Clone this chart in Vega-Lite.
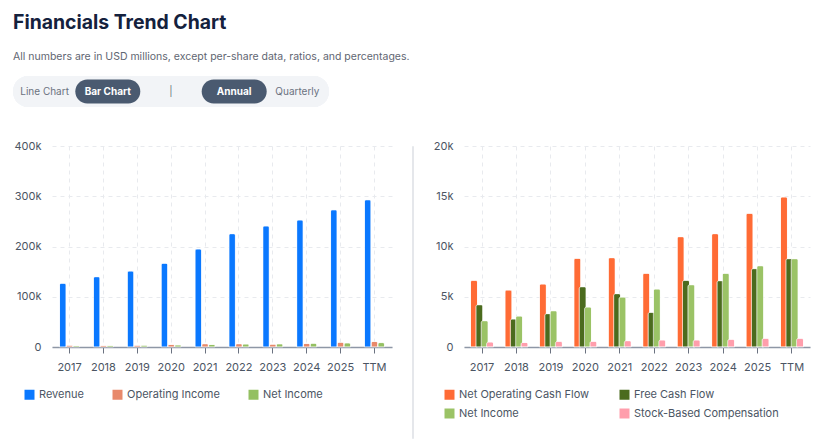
{
  "$schema": "https://vega.github.io/schema/vega-lite/v6.json",
  "background": "white",
  "padding": {"left": 13, "top": 13, "right": 5, "bottom": 5},
  "title": {
    "text": "Financials Trend Chart",
    "subtitle": "All numbers are in USD millions, except per-share data, ratios, and percentages.",
    "anchor": "start",
    "font": "Inter",
    "fontSize": 19.4,
    "fontWeight": 700,
    "color": "#14213d",
    "subtitleFont": "Inter",
    "subtitleFontSize": 10.5,
    "subtitleColor": "#5f6672",
    "subtitlePadding": 18,
    "offset": 13
  },
  "config": {
    "font": "Inter",
    "view": {"stroke": null},
    "axis": {"labelFont": "Inter", "labelFontSize": 11, "labelColor": "#4b5563"},
    "legend": {"labelFont": "Inter", "labelFontSize": 11, "labelColor": "#4b5563"}
  },
  "datasets": {
    "controls": [
      {"label": "Line Chart", "active": false},
      {"label": "Bar Chart", "active": true},
      {"label": "|", "active": false},
      {"label": "Annual", "active": true},
      {"label": "Quarterly", "active": false}
    ],
    "income": [
      {"period": "2017", "metric": "Revenue", "value": 126800},
      {"period": "2018", "metric": "Revenue", "value": 139900},
      {"period": "2019", "metric": "Revenue", "value": 151000},
      {"period": "2020", "metric": "Revenue", "value": 166600},
      {"period": "2021", "metric": "Revenue", "value": 195000},
      {"period": "2022", "metric": "Revenue", "value": 225500},
      {"period": "2023", "metric": "Revenue", "value": 240800},
      {"period": "2024", "metric": "Revenue", "value": 252700},
      {"period": "2025", "metric": "Revenue", "value": 273000},
      {"period": "TTM", "metric": "Revenue", "value": 293000},
      {"period": "2017", "metric": "Operating Income", "value": 3500},
      {"period": "2018", "metric": "Operating Income", "value": 3200},
      {"period": "2019", "metric": "Operating Income", "value": 3300},
      {"period": "2020", "metric": "Operating Income", "value": 5000},
      {"period": "2021", "metric": "Operating Income", "value": 6500},
      {"period": "2022", "metric": "Operating Income", "value": 6500},
      {"period": "2023", "metric": "Operating Income", "value": 5700},
      {"period": "2024", "metric": "Operating Income", "value": 7200},
      {"period": "2025", "metric": "Operating Income", "value": 9300},
      {"period": "TTM", "metric": "Operating Income", "value": 11000},
      {"period": "2017", "metric": "Net Income", "value": 2620},
      {"period": "2018", "metric": "Net Income", "value": 3080},
      {"period": "2019", "metric": "Net Income", "value": 3610},
      {"period": "2020", "metric": "Net Income", "value": 3980},
      {"period": "2021", "metric": "Net Income", "value": 4970},
      {"period": "2022", "metric": "Net Income", "value": 5770},
      {"period": "2023", "metric": "Net Income", "value": 6200},
      {"period": "2024", "metric": "Net Income", "value": 7330},
      {"period": "2025", "metric": "Net Income", "value": 8090},
      {"period": "TTM", "metric": "Net Income", "value": 8790}
    ],
    "cashflow": [
      {"period": "2017", "metric": "Net Operating Cash Flow", "value": 6630},
      {"period": "2018", "metric": "Net Operating Cash Flow", "value": 5670},
      {"period": "2019", "metric": "Net Operating Cash Flow", "value": 6270},
      {"period": "2020", "metric": "Net Operating Cash Flow", "value": 8820},
      {"period": "2021", "metric": "Net Operating Cash Flow", "value": 8890},
      {"period": "2022", "metric": "Net Operating Cash Flow", "value": 7330},
      {"period": "2023", "metric": "Net Operating Cash Flow", "value": 10980},
      {"period": "2024", "metric": "Net Operating Cash Flow", "value": 11280},
      {"period": "2025", "metric": "Net Operating Cash Flow", "value": 13300},
      {"period": "TTM", "metric": "Net Operating Cash Flow", "value": 14930},
      {"period": "2017", "metric": "Free Cash Flow", "value": 4210},
      {"period": "2018", "metric": "Free Cash Flow", "value": 2790},
      {"period": "2019", "metric": "Free Cash Flow", "value": 3320},
      {"period": "2020", "metric": "Free Cash Flow", "value": 6000},
      {"period": "2021", "metric": "Free Cash Flow", "value": 5310},
      {"period": "2022", "metric": "Free Cash Flow", "value": 3450},
      {"period": "2023", "metric": "Free Cash Flow", "value": 6630},
      {"period": "2024", "metric": "Free Cash Flow", "value": 6600},
      {"period": "2025", "metric": "Free Cash Flow", "value": 7800},
      {"period": "TTM", "metric": "Free Cash Flow", "value": 8790},
      {"period": "2017", "metric": "Net Income", "value": 2620},
      {"period": "2018", "metric": "Net Income", "value": 3080},
      {"period": "2019", "metric": "Net Income", "value": 3610},
      {"period": "2020", "metric": "Net Income", "value": 3980},
      {"period": "2021", "metric": "Net Income", "value": 4970},
      {"period": "2022", "metric": "Net Income", "value": 5770},
      {"period": "2023", "metric": "Net Income", "value": 6200},
      {"period": "2024", "metric": "Net Income", "value": 7330},
      {"period": "2025", "metric": "Net Income", "value": 8090},
      {"period": "TTM", "metric": "Net Income", "value": 8790},
      {"period": "2017", "metric": "Stock-Based Compensation", "value": 500},
      {"period": "2018", "metric": "Stock-Based Compensation", "value": 460},
      {"period": "2019", "metric": "Stock-Based Compensation", "value": 560},
      {"period": "2020", "metric": "Stock-Based Compensation", "value": 560},
      {"period": "2021", "metric": "Stock-Based Compensation", "value": 630},
      {"period": "2022", "metric": "Stock-Based Compensation", "value": 700},
      {"period": "2023", "metric": "Stock-Based Compensation", "value": 700},
      {"period": "2024", "metric": "Stock-Based Compensation", "value": 760},
      {"period": "2025", "metric": "Stock-Based Compensation", "value": 860},
      {"period": "TTM", "metric": "Stock-Based Compensation", "value": 860}
    ]
  },
  "spacing": 33,
  "vconcat": [
    {
      "width": 316,
      "height": 31,
      "data": {"name": "controls"},
      "layer": [
        {
          "mark": {"type": "rect", "cornerRadius": 15.5, "color": "#f2f4f7", "xOffset": -39, "x2Offset": -39},
          "encoding": {
            "x": {"datum": "Line Chart", "type": "nominal", "bandPosition": 0, "axis": null,
                  "scale": {"domain": ["Line Chart", "Bar Chart", "|", "Annual", "Quarterly"],
                            "paddingInner": 0, "paddingOuter": 0}},
            "x2": {"datum": "Quarterly", "bandPosition": 1}
          }
        },
        {
          "transform": [{"filter": "datum.active"}],
          "mark": {"type": "bar", "width": 65, "cornerRadius": 12, "color": "#4a5a70", "xOffset": -39},
          "encoding": {
            "x": {"field": "label", "type": "nominal", "axis": null},
            "y": {"datum": "pill", "type": "nominal", "axis": null,
                  "scale": {"paddingInner": 0, "paddingOuter": 0.146}}
          }
        },
        {
          "transform": [{"filter": "datum.active"}],
          "mark": {"type": "text", "color": "white", "fontWeight": 700, "fontSize": 10, "xOffset": -39},
          "encoding": {
            "x": {"field": "label", "type": "nominal", "axis": null},
            "text": {"field": "label"}
          }
        },
        {
          "transform": [{"filter": "!datum.active"}],
          "mark": {"type": "text", "color": "#6b7280", "fontSize": 10, "xOffset": -39},
          "encoding": {
            "x": {"field": "label", "type": "nominal", "axis": null},
            "text": {"field": "label"}
          }
        }
      ]
    },
    {
      "spacing": 19,
      "resolve": {
        "scale": {"color": "independent", "x": "independent", "y": "independent", "xOffset": "independent"},
        "legend": {"color": "independent"}
      },
      "hconcat": [
        {
          "width": 340,
          "height": 201,
          "data": {"name": "income"},
          "mark": {"type": "bar", "width": 6.5, "cornerRadiusTopLeft": 2, "cornerRadiusTopRight": 2,
                   "stroke": "white", "strokeWidth": 0.5},
          "encoding": {
            "x": {"field": "period", "type": "ordinal", "sort": null, "title": null,
                  "scale": {"paddingInner": 0.4, "paddingOuter": 0.218},
                  "axis": {"labelAngle": 0, "domainColor": "#8e97a6", "domainWidth": 1.5,
                           "tickColor": "#6b7280", "tickSize": 6, "labelPadding": 8,
                           "grid": true, "gridDash": [4, 4], "gridColor": "#e8eaee", "bandPosition": 0.5}},
            "xOffset": {"field": "metric", "sort": ["Revenue", "Operating Income", "Net Income"],
                        "scale": {"paddingInner": 0}},
            "y": {"field": "value", "type": "quantitative", "title": null,
                  "scale": {"domain": [0, 400000]},
                  "axis": {"labelExpr": "datum.value == 0 ? '0' : format(datum.value, '~s')",
                           "tickCount": 4, "domain": false, "ticks": false, "minExtent": 39,
                           "labelPadding": 11, "gridDash": [4, 4], "gridColor": "#e8eaee"}},
            "color": {"field": "metric", "type": "nominal",
                      "scale": {"domain": ["Revenue", "Operating Income", "Net Income"],
                                "range": ["#0a78ff", "#e8896b", "#94c062"]},
                      "legend": {"title": null, "orient": "none", "legendX": -28, "legendY": 243,
                                 "direction": "horizontal", "symbolType": "square", "symbolSize": 100,
                                 "symbolStrokeWidth": 0, "columnPadding": 28, "labelOffset": 4}}
          }
        },
        {
          "width": 1,
          "height": 292,
          "data": {"values": [{}]},
          "view": {"stroke": "#e5e7eb"},
          "mark": {"type": "text", "text": ""},
          "encoding": {}
        },
        {
          "width": 346,
          "height": 201,
          "data": {"name": "cashflow"},
          "mark": {"type": "bar", "width": 7, "cornerRadiusTopLeft": 2, "cornerRadiusTopRight": 2,
                   "stroke": "white", "strokeWidth": 0.6},
          "encoding": {
            "x": {"field": "period", "type": "ordinal", "sort": null, "title": null,
                  "scale": {"paddingInner": 0.38, "paddingOuter": 0.213},
                  "axis": {"labelAngle": 0, "domainColor": "#8e97a6", "domainWidth": 1.5,
                           "tickColor": "#6b7280", "tickSize": 6, "labelPadding": 8,
                           "grid": true, "gridDash": [4, 4], "gridColor": "#e8eaee", "bandPosition": 0.5}},
            "xOffset": {"field": "metric",
                        "sort": ["Net Operating Cash Flow", "Free Cash Flow", "Net Income", "Stock-Based Compensation"],
                        "scale": {"paddingInner": 0}},
            "y": {"field": "value", "type": "quantitative", "title": null,
                  "scale": {"domain": [0, 20000]},
                  "axis": {"labelExpr": "datum.value == 0 ? '0' : format(datum.value, '~s')",
                           "tickCount": 4, "domain": false, "ticks": false,
                           "labelPadding": 11, "gridDash": [4, 4], "gridColor": "#e8eaee"}},
            "color": {"field": "metric", "type": "nominal",
                      "scale": {"domain": ["Net Operating Cash Flow", "Free Cash Flow", "Net Income", "Stock-Based Compensation"],
                                "range": ["#ff6b35", "#4b6b1e", "#9bc366", "#ff9eac"]},
                      "legend": {"title": null, "orient": "none", "legendX": -20, "legendY": 243,
                                 "direction": "horizontal", "columns": 2, "symbolType": "square", "symbolSize": 100,
                                 "symbolStrokeWidth": 0, "columnPadding": 29, "rowPadding": 7, "labelOffset": 4}}
          }
        }
      ]
    }
  ]
}
